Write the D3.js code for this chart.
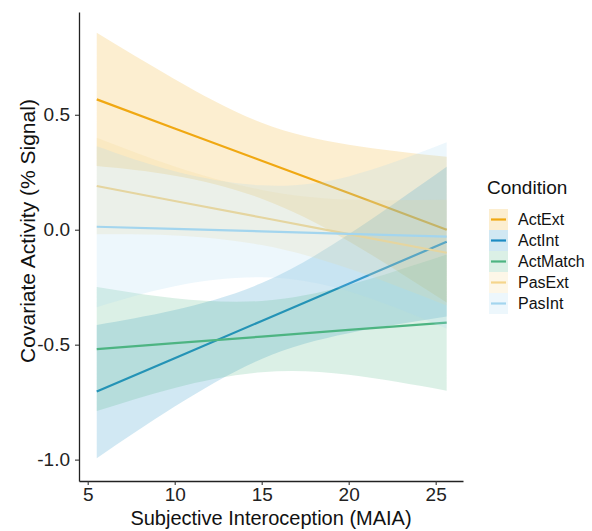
<!DOCTYPE html>
<html>
  <head>
    <meta charset="utf-8">
    <title>Covariate activity by MAIA</title>
    <style>
      body { margin: 0; background: #fff; }
      text { font-family: "Liberation Sans", Arial, sans-serif; }
    </style>
  </head>
  <body>
    <script src="https://d3js.org/d3.v7.min.js"></script>
    <script>

    var maia = [5.52, 10, 15, 20, 25.63];

    var conditions = ["ActExt", "ActInt", "ActMatch", "PasExt", "PasInt"];
    var colors = ["#F0A812", "#1B8BC3", "#4DB482", "#F5D58C", "#A3D5EE"];

    // fitted line, lower and upper limits of the band, per condition
    var fitActExt = [0.567, 0.44, 0.30, 0.16, 0.0];
    var lowActExt = [0.277, 0.235, 0.135, -0.05, -0.317];
    var upActExt  = [0.857, 0.655, 0.465, 0.37, 0.317];

    var fitActInt = [-0.704, -0.559, -0.397, -0.235, -0.052];
    var lowActInt = [-0.994, -0.769, -0.562, -0.45, -0.378];
    var upActInt  = [-0.414, -0.349, -0.232, -0.02, 0.274];

    var fitActMatch = [-0.519, -0.493, -0.465, -0.436, -0.404];
    var lowActMatch = [-0.789, -0.688, -0.62, -0.631, -0.70];
    var upActMatch  = [-0.249, -0.298, -0.31, -0.241, -0.108];

    var fitPasExt = [0.19, 0.125, 0.053, -0.019, -0.10];
    var lowPasExt = [-0.02, -0.025, -0.067, -0.169, -0.33];
    var upPasExt  = [0.40, 0.275, 0.173, 0.131, 0.13];

    var fitPasInt = [0.013, 0.004, -0.007, -0.018, -0.03];
    var lowPasInt = [-0.337, -0.246, -0.207, -0.268, -0.43];
    var upPasInt  = [0.363, 0.254, 0.193, 0.232, 0.38];

    var xTicks = [5, 10, 15, 20, 25];
    var yTicks = [-1.0, -0.5, 0.0, 0.5];

    // build one record per condition
    var fits = [fitActExt, fitActInt, fitActMatch, fitPasExt, fitPasInt];
    var lows = [lowActExt, lowActInt, lowActMatch, lowPasExt, lowPasInt];
    var ups  = [upActExt, upActInt, upActMatch, upPasExt, upPasInt];
    var series = conditions.map(function(c, i) {
      return {
        name: c,
        color: colors[i],
        values: maia.map(function(m, j) {
          return { x: m, fit: fits[i][j], lo: lows[i][j], hi: ups[i][j] };
        })
      };
    });

    var width = 592, height = 531;
    var svg = d3.select("body").append("svg")
      .attr("width", width)
      .attr("height", height);

    var x = d3.scaleLinear().domain([4.5, 26.57]).range([79, 463]);
    var y = d3.scaleLinear().domain([-1.093, 0.947]).range([481, 12]);

    var band = d3.area()
      .x(function(d) { return x(d.x); })
      .y0(function(d) { return y(d.lo); })
      .y1(function(d) { return y(d.hi); })
      .curve(d3.curveNatural);

    var line = d3.line()
      .x(function(d) { return x(d.x); })
      .y(function(d) { return y(d.fit); });

    // ribbon then line, group by group (as geom_smooth does)
    series.forEach(function(s) {
      svg.append("path")
        .attr("d", band(s.values))
        .attr("fill", s.color)
        .attr("fill-opacity", 0.2);
      svg.append("path")
        .attr("d", line(s.values))
        .attr("fill", "none")
        .attr("stroke", s.color)
        .attr("stroke-width", 2.2);
    });

    // axes
    var xAxis = svg.append("g")
      .attr("transform", "translate(0,481)")
      .call(d3.axisBottom(x).tickValues(xTicks).tickSize(4).tickSizeOuter(0).tickPadding(3));
    var yAxis = svg.append("g")
      .attr("transform", "translate(79,0)")
      .call(d3.axisLeft(y).tickValues(yTicks).tickSize(4).tickSizeOuter(0).tickPadding(5)
        .tickFormat(function(d) { return d.toFixed(1); }));

    [xAxis, yAxis].forEach(function(a) {
      a.select(".domain").attr("stroke", "#222").attr("stroke-width", 1.3);
      a.selectAll(".tick line").attr("stroke", "#333").attr("stroke-width", 1.1);
      a.selectAll(".tick text")
        .attr("fill", "#222")
        .style("font-size", "19px")
        .style("font-family", "Liberation Sans, Arial, sans-serif");
    });

    // axis titles
    svg.append("text")
      .attr("x", 271)
      .attr("y", 525)
      .attr("text-anchor", "middle")
      .attr("fill", "#111")
      .style("font-size", "20px")
      .text("Subjective Interoception (MAIA)");

    svg.append("text")
      .attr("transform", "translate(35,231) rotate(-90)")
      .attr("text-anchor", "middle")
      .attr("fill", "#111")
      .style("font-size", "21px")
      .text("Covariate Activity (% Signal)");

    // legend
    var legend = svg.append("g").attr("transform", "translate(487,0)");
    legend.append("text")
      .attr("x", 0)
      .attr("y", 194)
      .attr("fill", "#111")
      .style("font-size", "19px")
      .text("Condition");

    var rows = legend.selectAll("g.row")
      .data(series)
      .enter().append("g")
      .attr("class", "row")
      .attr("transform", function(d, i) { return "translate(0," + (209 + i * 21) + ")"; });

    rows.append("rect")
      .attr("x", 2)
      .attr("y", 0)
      .attr("width", 19)
      .attr("height", 21)
      .attr("fill", function(d) { return d.color; })
      .attr("fill-opacity", 0.2);
    rows.append("line")
      .attr("x1", 4).attr("x2", 19)
      .attr("y1", 10.5).attr("y2", 10.5)
      .attr("stroke", function(d) { return d.color; })
      .attr("stroke-width", 2.2);
    rows.append("text")
      .attr("x", 31)
      .attr("y", 16)
      .attr("fill", "#111")
      .style("font-size", "16px")
      .text(function(d) { return d.name; });

    </script>
  </body>
</html>
